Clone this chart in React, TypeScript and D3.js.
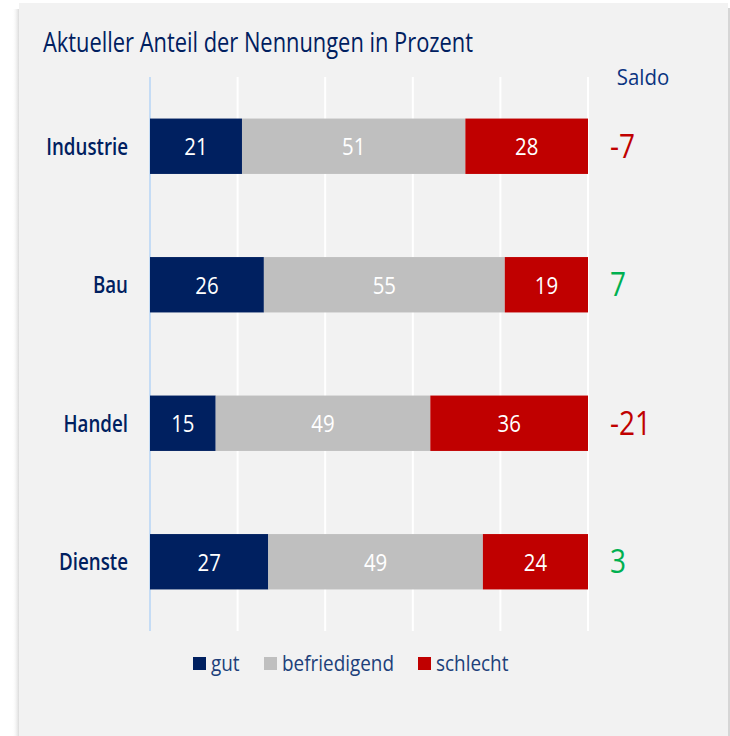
import React from "react";
import * as d3 from "d3";

const categories = ["Industrie", "Bau", "Handel", "Dienste"];
const gut = [21, 26, 15, 27];
const befriedigend = [51, 55, 49, 49];
const schlecht = [28, 19, 36, 24];
const saldo = [-7, 7, -21, 3];
const seriesNames = ["gut", "befriedigend", "schlecht"];
const xTicks = [0, 20, 40, 60, 80, 100];
const titleText = "Aktueller Anteil der Nennungen in Prozent";
const saldoTitle = "Saldo";

const colors = ["#002060", "#bfbfbf", "#c00000"];
const navy = "#002060";
const FONT = "'Open Sans', 'Noto Sans', sans-serif";

function CT({ x, y, sx = 1, anchor = "start", size, fill, children, weight = 400 }: any) {
  return (
    <text
      transform={`translate(${x},${y}) scale(${sx},1)`}
      textAnchor={anchor}
      fontSize={size}
      fill={fill}
      fontFamily={FONT}
      fontWeight={weight}
    >
      {children}
    </text>
  );
}

export default function App() {
  const W = 730, H = 736;
  const x = d3.scaleLinear().domain([0, 100]).range([150, 588]);
  const y = d3.scaleBand<string>().domain(categories).range([77, 631]).paddingInner(0.6).paddingOuter(0.3);
  const rows = categories.map((c, i) => ({ c, vals: [gut[i], befriedigend[i], schlecht[i]], s: saldo[i] }));
  const stack = d3.stack<any>().keys(["0", "1", "2"])(rows.map((r) => ({ 0: r.vals[0], 1: r.vals[1], 2: r.vals[2] })) as any);

  const legendX = [193, 264, 418];

  return (
    <svg width={W} height={H} style={{ position: "absolute", left: 0, top: 0 }}>
      <defs>
        <linearGradient id="shL" x1="0" x2="1" y1="0" y2="0">
          <stop offset="0" stopColor="#ffffff" stopOpacity="0" />
          <stop offset="1" stopColor="#cfcfcf" stopOpacity="1" />
        </linearGradient>
      </defs>
      <rect x={0} y={0} width={W} height={H} fill="#ffffff" />
      <rect x={12} y={9} width={8} height={H - 9} fill="url(#shL)" />
      <rect x={727} y={8} width={3} height={H - 8} fill="#d6d6d6" />
      <rect x={19} y={3} width={709} height={H - 3} fill="#f2f2f2" />

      <CT x={43} y={52} sx={0.825} size={26.5} fill={navy} weight={500}>{titleText}</CT>
      <CT x={643} y={85} sx={0.95} anchor="middle" size={21.5} fill="#0a3480" weight={500}>{saldoTitle}</CT>

      {xTicks.map((t) => (
        <line key={t} x1={x(t)} x2={x(t)} y1={77} y2={631} stroke={t === 0 ? "#c5dcf5" : "#ffffff"} strokeWidth={2} />
      ))}

      {stack.map((layer, si) =>
        layer.map((d, i) => {
          const c = categories[i];
          const y0 = y(c)!;
          const bw = y.bandwidth();
          const x0 = x(d[0]), x1 = x(d[1]);
          return (
            <g key={`${si}-${i}`}>
              <rect x={x0} y={y0} width={x1 - x0} height={bw} fill={colors[si]} />
              <CT x={(x0 + x1) / 2} y={y0 + bw / 2 + 9} sx={0.85} anchor="middle" size={24} fill="#ffffff">
                {rows[i].vals[si]}
              </CT>
            </g>
          );
        })
      )}

      {categories.map((c) => (
        <CT key={c} x={128} y={y(c)! + y.bandwidth() / 2 + 8.5} sx={0.78} anchor="end" size={24} fill={navy} weight={600}>
          {c}
        </CT>
      ))}

      {rows.map((r) => (
        <CT key={r.c} x={610} y={y(r.c)! + y.bandwidth() / 2 + 11.5} sx={0.85} anchor="start" size={33} fill={r.s < 0 ? "#c00000" : "#00b050"}>
          {r.s}
        </CT>
      ))}

      {seriesNames.map((n, i) => (
        <g key={n}>
          <rect x={legendX[i]} y={657} width={13} height={13} fill={colors[i]} />
          <CT x={legendX[i] + 18} y={670.5} sx={0.86} size={22} fill="#203f7a">{n}</CT>
        </g>
      ))}
    </svg>
  );
}
